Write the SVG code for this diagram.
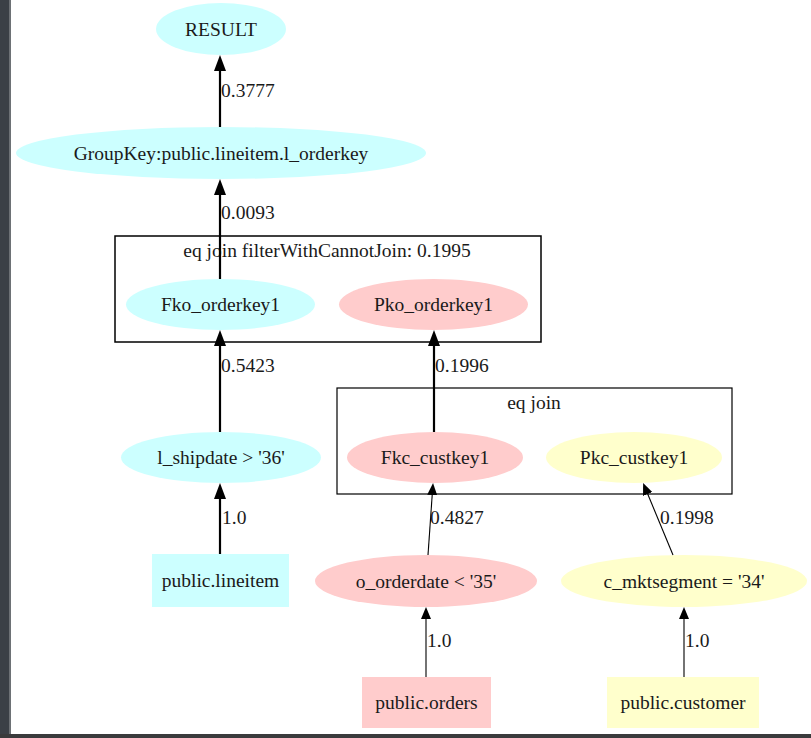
<svg xmlns="http://www.w3.org/2000/svg" width="811" height="738" viewBox="0 0 811 738">
<style>
text{font-family:'Liberation Serif','Times New Roman',Tinos,'DejaVu Serif',serif;font-size:19.5px;fill:#1a1a1a}
.c{text-anchor:middle}
.cy{fill:#ccffff}
.pk{fill:#ffcccc}
.ye{fill:#ffffcc}
.e{stroke:#000;fill:none}
.t{stroke-width:2.2}
.n{stroke-width:1.1}
.cl{fill:none;stroke:#000}
</style>
<defs>
<marker id="ah" markerUnits="userSpaceOnUse" viewBox="0 0 16 12" markerWidth="16" markerHeight="12" refX="0" refY="6" orient="auto">
<path d="M0,0 L16,6 L0,12 z" fill="#000"/>
</marker>
<marker id="as" markerUnits="userSpaceOnUse" viewBox="0 0 12 10" markerWidth="12" markerHeight="10" refX="0" refY="5" orient="auto">
<path d="M0,0 L12,5 L0,10 z" fill="#000"/>
</marker>
</defs>
<rect width="811" height="738" fill="#fff"/>
<rect x="0" y="0" width="9" height="738" fill="#3b4046"/>
<rect x="9" y="0" width="2" height="734" fill="#6d7175"/>
<rect x="0" y="734" width="811" height="4" fill="#3a3b3c"/>

<g id="cluster1">
<rect class="cl" x="115" y="236" width="426" height="106" stroke-width="1.5"/>
<text class="c" x="327" y="257" font-family="Liberation Serif, serif">eq join filterWithCannotJoin: 0.1995</text>
</g>
<g id="cluster2">
<rect class="cl" x="337" y="388" width="395" height="106" stroke-width="1.2"/>
<text class="c" x="534" y="409">eq join</text>
</g>

<g id="RESULT"><ellipse class="cy" cx="221" cy="29" rx="65" ry="26"/><text class="c" x="221" y="35.5">RESULT</text></g>
<g id="GroupKey"><ellipse class="cy" cx="221" cy="153" rx="205" ry="26"/><text class="c" x="221" y="159.5">GroupKey:public.lineitem.l_orderkey</text></g>
<g id="Fko_orderkey1"><ellipse class="cy" cx="220.5" cy="304.5" rx="94.5" ry="25.5"/><text class="c" x="220.5" y="311">Fko_orderkey1</text></g>
<g id="Pko_orderkey1"><ellipse class="pk" cx="433.5" cy="304.5" rx="94.5" ry="25.5"/><text class="c" x="433.5" y="311">Pko_orderkey1</text></g>
<g id="l_shipdate"><ellipse class="cy" cx="221" cy="457.5" rx="100" ry="25.5"/><text class="c" x="221" y="464">l_shipdate &gt; '36'</text></g>
<g id="Fkc_custkey1"><ellipse class="pk" cx="435" cy="457.5" rx="88" ry="25.5"/><text class="c" x="435" y="464">Fkc_custkey1</text></g>
<g id="Pkc_custkey1"><ellipse class="ye" cx="634" cy="457.5" rx="88" ry="25.5"/><text class="c" x="634" y="464">Pkc_custkey1</text></g>
<g id="public.lineitem"><rect class="cy" x="152" y="554" width="137" height="53"/><text class="c" x="220.5" y="587">public.lineitem</text></g>
<g id="o_orderdate"><ellipse class="pk" cx="426" cy="581" rx="111" ry="26"/><text class="c" x="426" y="587.5">o_orderdate &lt; '35'</text></g>
<g id="c_mktsegment"><ellipse class="ye" cx="684" cy="581" rx="123" ry="26"/><text class="c" x="684" y="587.5">c_mktsegment = '34'</text></g>
<g id="public.orders"><rect class="pk" x="362" y="677" width="129" height="51"/><text class="c" x="426.5" y="709">public.orders</text></g>
<g id="public.customer"><rect class="ye" x="607" y="677" width="152" height="51"/><text class="c" x="683" y="709">public.customer</text></g>

<g id="connectors">
<line class="e t" x1="220" y1="127" x2="220" y2="71" marker-end="url(#ah)"/>
<line class="e t" x1="220" y1="279" x2="220" y2="195" marker-end="url(#ah)"/>
<line class="e t" x1="220" y1="432" x2="220" y2="346" marker-end="url(#ah)"/>
<line class="e t" x1="434" y1="432" x2="434" y2="346" marker-end="url(#ah)"/>
<line class="e t" x1="220" y1="554" x2="220" y2="499" marker-end="url(#ah)"/>
<line class="e n" x1="428" y1="555" x2="432.2" y2="495" marker-end="url(#as)"/>
<line class="e n" x1="673" y1="555" x2="647.7" y2="494" marker-end="url(#as)"/>
<line class="e n" x1="426" y1="677" x2="426" y2="619" marker-end="url(#as)"/>
<line class="e n" x1="684" y1="677" x2="684" y2="619" marker-end="url(#as)"/>
<text x="221" y="97">0.3777</text>
<text x="221" y="219">0.0093</text>
<text x="221" y="372">0.5423</text>
<text x="435" y="372">0.1996</text>
<text x="222" y="524">1.0</text>
<text x="430" y="524">0.4827</text>
<text x="660" y="524">0.1998</text>
<text x="427" y="647">1.0</text>
<text x="685" y="647">1.0</text>
</g>
</svg>
